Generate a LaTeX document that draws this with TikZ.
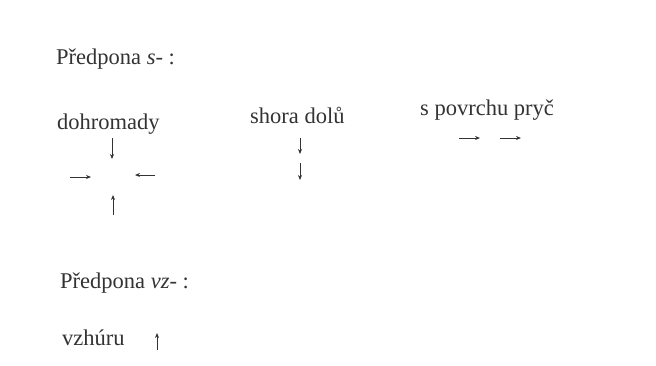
\documentclass[tikz,border=0pt]{standalone}
\usepackage{fontspec}
\setmainfont{Liberation Serif}
\usetikzlibrary{arrows.meta}
\definecolor{ink}{HTML}{333333}
\tikzset{
  lbl/.style={anchor=base west, inner sep=0pt, text=ink, font=\fontsize{22.5}{26}\selectfont},
  arr/.style={draw=ink, line width=0.8pt, -{Stealth[length=5pt,width=4pt]}}
}
\begin{document}
\begin{tikzpicture}[x=1pt,y=-1pt]
\useasboundingbox (0,0) rectangle (656,365);
\node[lbl] (h1) at (56,64) {Předpona \textit{s}- :};
\node[lbl] (d) at (57,129) {dohromady};
\node[lbl] (sd) at (250,123) {shora dolů};
\node[lbl] (sp) at (420,115) {s povrchu pryč};
\node[lbl] (h2) at (60,288) {Předpona \textit{vz}- :};
\node[lbl] (vz) at (62,345) {vzhúru};
% dohromady
\coordinate (d1a) at (112,138); \coordinate (d1b) at (112,159);
\coordinate (d2a) at (70,177);  \coordinate (d2b) at (91,177);
\coordinate (d3a) at (155,175); \coordinate (d3b) at (135,175);
\coordinate (d4a) at (113,215); \coordinate (d4b) at (113,195);
\draw[arr] (d1a) -- (d1b);
\draw[arr] (d2a) -- (d2b);
\draw[arr] (d3a) -- (d3b);
\draw[arr] (d4a) -- (d4b);
% shora dolu
\coordinate (s1a) at (300,138); \coordinate (s1b) at (300,154);
\coordinate (s2a) at (300,163); \coordinate (s2b) at (300,180);
\draw[arr] (s1a) -- (s1b);
\draw[arr] (s2a) -- (s2b);
% s povrchu pryc
\coordinate (p1a) at (459,138); \coordinate (p1b) at (480,138);
\coordinate (p2a) at (500,138); \coordinate (p2b) at (521,138);
\draw[arr] (p1a) -- (p1b);
\draw[arr] (p2a) -- (p2b);
% vzhuru
\coordinate (v1a) at (157,350); \coordinate (v1b) at (157,333);
\draw[arr] (v1a) -- (v1b);
\end{tikzpicture}
\end{document}
